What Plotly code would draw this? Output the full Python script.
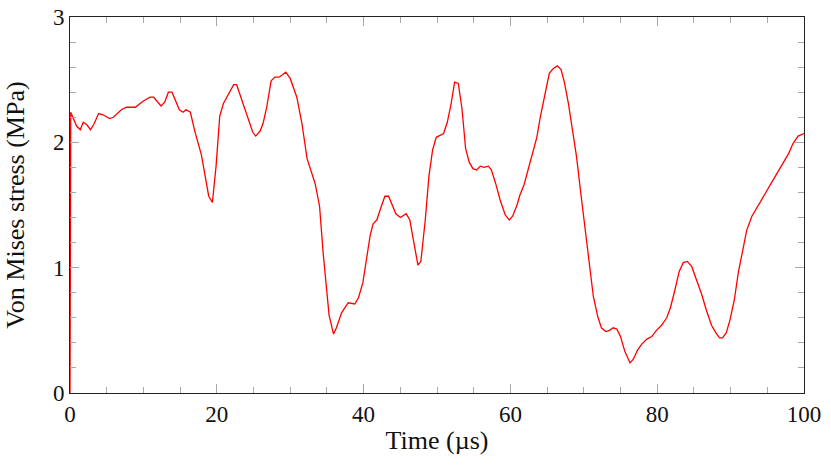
import plotly.graph_objects as go

# Von Mises stress vs time
time_us = [
    0.0, 0.1, 0.9, 1.4, 1.8, 2.3, 2.8, 3.3, 3.9, 4.5, 5.4, 5.9, 7.0, 7.7, 8.9,
    10.0, 10.9, 11.4, 12.4, 12.9, 13.4, 13.9, 14.9, 15.4, 15.8, 16.4, 17.0,
    17.9, 18.9, 19.4, 19.9, 20.4, 20.9, 21.6, 22.3, 22.7, 23.9, 24.9, 25.3,
    25.9, 26.3, 26.8, 27.4, 27.9, 28.5, 29.4, 30.0, 30.9, 31.6, 32.3, 33.4,
    34.0, 34.5, 35.3, 35.9, 36.3, 37.0, 37.5, 37.9, 38.8, 39.3, 39.9, 40.3,
    40.9, 41.3, 41.8, 42.3, 42.9, 43.4, 44.4, 45.0, 45.8, 46.3, 46.9, 47.4,
    47.8, 48.4, 48.9, 49.4, 49.9, 50.9, 51.4, 51.9, 52.4, 52.9, 53.4, 53.9,
    54.4, 54.9, 55.4, 55.9, 56.4, 57.0, 57.4, 58.0, 58.6, 59.3, 59.85, 60.3,
    60.9, 61.3, 61.85, 62.4, 63.0, 63.6, 64.1, 64.7, 65.3, 65.85, 66.4, 66.9,
    67.35, 67.9, 68.5, 69.0, 69.6, 70.2, 70.75, 71.3, 71.9, 72.4, 73.0, 73.5,
    74.0, 74.5, 75.0, 75.6, 76.3, 76.75, 77.3, 77.9, 78.6, 79.25, 79.9, 80.6,
    81.3, 81.8, 82.4, 83.0, 83.55, 84.1, 84.7, 85.4, 86.1, 86.7, 87.4, 88.0,
    88.5, 88.9, 89.4, 89.9, 90.5, 91.05, 91.65, 92.2, 92.9, 93.55, 94.5, 95.4,
    96.3, 97.2, 97.9, 98.5, 99.2, 100.0,
]
stress_mpa = [
    0.0, 2.24, 2.13, 2.10, 2.16, 2.14, 2.10, 2.15, 2.23, 2.22, 2.19, 2.20, 2.26,
    2.28, 2.28, 2.33, 2.36, 2.36, 2.29, 2.32, 2.40, 2.40, 2.26, 2.24, 2.26,
    2.24, 2.09, 1.90, 1.57, 1.52, 1.81, 2.21, 2.31, 2.38, 2.46, 2.46, 2.25,
    2.08, 2.05, 2.09, 2.15, 2.28, 2.49, 2.52, 2.52, 2.56, 2.51, 2.36, 2.15,
    1.87, 1.67, 1.49, 1.11, 0.62, 0.47, 0.52, 0.64, 0.69, 0.72, 0.71, 0.76,
    0.88, 1.04, 1.26, 1.35, 1.38, 1.47, 1.57, 1.57, 1.43, 1.40, 1.43, 1.38,
    1.19, 1.02, 1.05, 1.38, 1.73, 1.94, 2.04, 2.07, 2.16, 2.30, 2.48, 2.47,
    2.27, 1.95, 1.84, 1.79, 1.78, 1.81, 1.80, 1.81, 1.78, 1.67, 1.54, 1.42,
    1.38, 1.41, 1.50, 1.58, 1.66, 1.78, 1.90, 2.04, 2.21, 2.39, 2.55, 2.59,
    2.61, 2.58, 2.48, 2.31, 2.10, 1.89, 1.59, 1.30, 1.01, 0.77, 0.61, 0.52,
    0.49, 0.50, 0.52, 0.51, 0.45, 0.33, 0.24, 0.27, 0.34, 0.39, 0.43, 0.45,
    0.50, 0.54, 0.60, 0.68, 0.82, 0.97, 1.04, 1.05, 1.01, 0.90, 0.78, 0.66,
    0.54, 0.48, 0.44, 0.44, 0.48, 0.58, 0.74, 0.96, 1.15, 1.30, 1.41, 1.48,
    1.57, 1.66, 1.75, 1.83, 1.91, 1.99, 2.05, 2.07,
]

x_ticks = [0, 20, 40, 60, 80, 100]
y_ticks = [0, 1, 2, 3]

tick_font = dict(family="Liberation Serif, DejaVu Serif, serif", size=23, color="#111")
title_font = dict(family="Liberation Serif, DejaVu Serif, serif", size=26, color="#111")
tick_col = "#a8a8a8"
line_col = "#222"

fig = go.Figure()
fig.add_trace(go.Scatter(
    x=time_us,
    y=stress_mpa,
    mode="lines",
    line=dict(color="#ff0000", width=1.3),
    showlegend=False,
))

axis_common = dict(
    showgrid=False,
    zeroline=False,
    showline=True,
    linecolor=line_col,
    linewidth=1,
    mirror="allticks",
    ticks="inside",
    ticklen=9,
    tickwidth=1,
    tickcolor=tick_col,
    tickfont=tick_font,
    automargin=False,
)

fig.update_xaxes(
    range=[0, 100],
    tickvals=x_ticks,
    title=dict(text="Time (µs)", font=title_font, standoff=5),
    minor=dict(ticks="inside", dtick=5, tick0=0, ticklen=6, tickcolor=tick_col, showgrid=False),
    **axis_common,
)
fig.update_yaxes(
    range=[0, 3],
    tickvals=y_ticks,
    title=dict(text="Von Mises stress (MPa)", font=title_font, standoff=20),
    minor=dict(ticks="inside", dtick=0.2, tick0=0, ticklen=6, tickcolor=tick_col, showgrid=False),
    **axis_common,
)

fig.update_layout(
    width=831,
    height=467,
    margin=dict(l=70, r=27, t=17, b=74),
    paper_bgcolor="white",
    plot_bgcolor="white",
)

# drop the browser's default body margin so the figure sits at the page corner
fig.write_html(
    "out.html",
    config={"displayModeBar": False},
    post_script="document.body.style.margin='0';",
)
